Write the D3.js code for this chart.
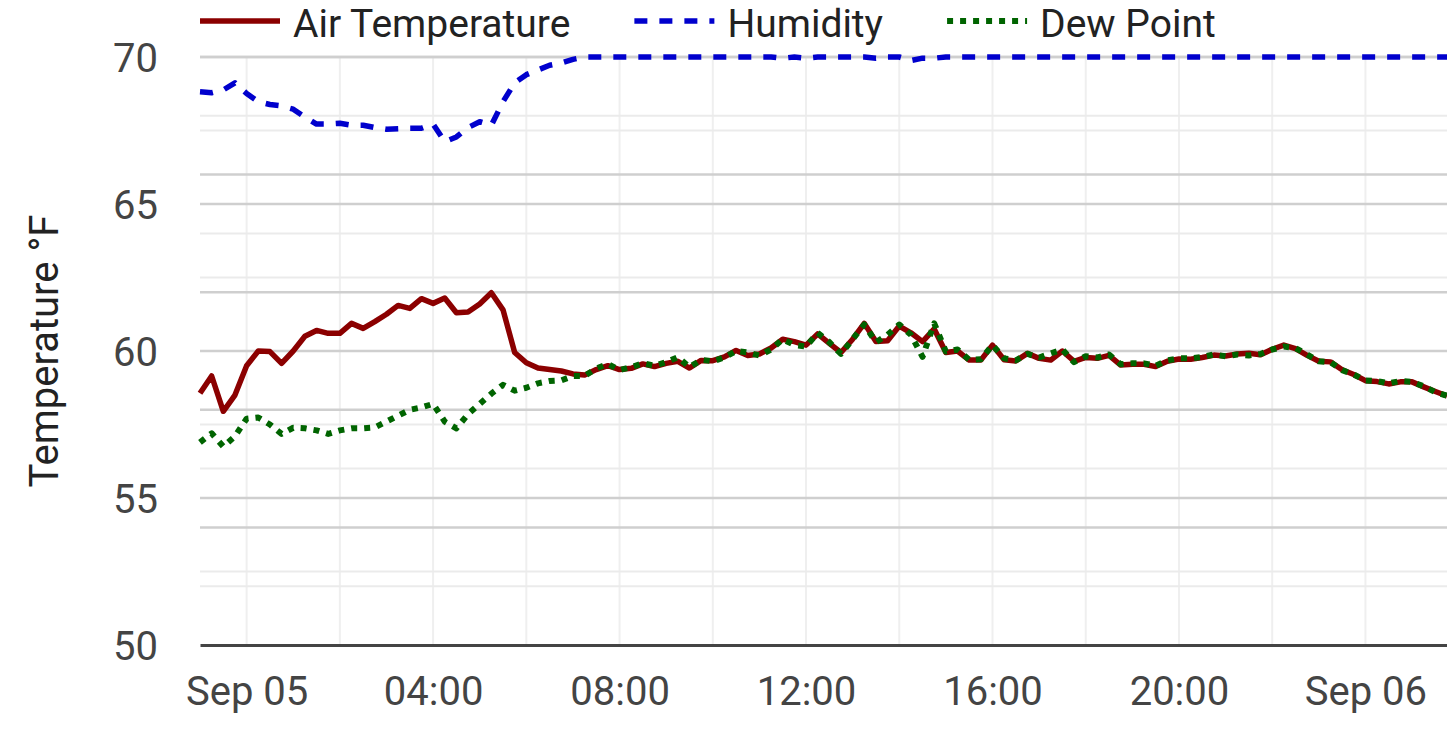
<!DOCTYPE html>
<html>
<head>
<meta charset="utf-8">
<script src="https://cdn.jsdelivr.net/npm/d3@7"></script>
<style>
  html, body { margin: 0; padding: 0; background: #fff; }
  svg { display: block; font-family: Roboto, "Noto Sans", sans-serif; }
</style>
</head>
<body>
<div id="CHART"></div>
<script>
////////////////////////////////////////////////////////////// DATA //////////////////////////////////////////////////////////////
// readings every 15 minutes, starting Sep 04 23:00
var startTime = new Date(2023, 8, 4, 23, 0);
var stepMinutes = 15;

var seriesNames = ["Air Temperature", "Humidity", "Dew Point"];

var airTemp = [
  58.56, 59.15, 57.95, 58.5, 59.5, 60.0, 59.98, 59.58, 60.0, 60.5,
  60.7, 60.6, 60.6, 60.94, 60.77, 61.0, 61.25, 61.55, 61.45, 61.78,
  61.62, 61.8, 61.3, 61.33, 61.6, 61.98, 61.4, 59.95, 59.6, 59.42,
  59.37, 59.32, 59.22, 59.18, 59.37, 59.5, 59.37, 59.41, 59.56, 59.47,
  59.58, 59.65, 59.42, 59.68, 59.67, 59.8, 60.02, 59.85, 59.9, 60.1,
  60.4, 60.32, 60.2, 60.58, 60.26, 59.95, 60.4, 60.94, 60.32, 60.35,
  60.85, 60.62, 60.32, 60.75, 59.95, 60.0, 59.69, 59.69, 60.2, 59.7,
  59.66, 59.92, 59.75, 59.69, 60.0, 59.65, 59.78, 59.75, 59.85, 59.52,
  59.55, 59.55, 59.47, 59.65, 59.73, 59.72, 59.78, 59.86, 59.83, 59.9,
  59.92, 59.87, 60.06, 60.2, 60.08, 59.85, 59.65, 59.63, 59.36, 59.2,
  58.99, 58.96, 58.88, 58.95, 58.95, 58.78, 58.62, 58.47
];

// relative humidity, % (right hand scale, labels hidden)
var humidity = [
  98.52, 98.48, 98.6, 98.9, 98.45, 98.1, 97.98, 97.92, 97.78, 97.45,
  97.15, 97.15, 97.18, 97.1, 97.1, 97.0, 96.93, 96.95, 96.97, 96.97,
  97.15, 96.4, 96.6, 97.0, 97.25, 97.1, 98.1, 98.9, 99.25, 99.45,
  99.65, 99.75, 99.9, 100, 100, 100, 100, 100, 100, 100,
  100, 100, 100, 100, 100, 100, 100, 100, 100, 100,
  99.95, 100, 99.95, 100, 100, 100, 100, 100, 99.95, 100,
  100, 99.85, 99.95, 99.95, 100, 100, 100, 100, 100, 100,
  100, 100, 100, 100, 100, 100, 100, 100, 100, 100,
  100, 100, 100, 100, 100, 100, 100, 100, 100, 100,
  100, 100, 100, 100, 100, 100, 100, 100, 100, 100,
  100, 100, 100, 100, 100, 100, 100, 100
];

var dewPoint = [
  56.89, 57.2, 56.75, 57.1, 57.7, 57.74, 57.5, 57.18, 57.39, 57.37,
  57.3, 57.18, 57.3, 57.37, 57.37, 57.4, 57.6, 57.8, 58.0, 58.08,
  58.2, 57.6, 57.37, 57.85, 58.2, 58.55, 58.85, 58.65, 58.75, 58.9,
  58.98, 59.0, 59.15, 59.15, 59.4, 59.56, 59.35, 59.45, 59.58, 59.5,
  59.62, 59.79, 59.45, 59.7, 59.65, 59.78, 60.0, 59.95, 59.85, 60.05,
  60.4, 60.2, 60.15, 60.62, 60.3, 59.9, 60.4, 60.9, 60.3, 60.55,
  60.9, 60.55, 59.8, 60.94, 59.98, 60.05, 59.7, 59.72, 60.2, 59.75,
  59.68, 59.9, 59.78, 59.92, 60.05, 59.62, 59.82, 59.78, 59.88, 59.55,
  59.58, 59.58, 59.5, 59.68, 59.75, 59.75, 59.8, 59.88, 59.82, 59.88,
  59.85, 59.9, 60.05, 60.15, 60.1, 59.88, 59.65, 59.62, 59.35, 59.2,
  59.0, 58.98, 58.9, 58.98, 58.95, 58.8, 58.6, 58.48
];

var tempTicks = [50, 55, 60, 65, 70];
var tempMinorTicks = [52.5, 57.5, 62.5, 67.5];
var humTicks = [75, 80, 85, 90, 95, 100];
var humMinorTicks = [77.5, 82.5, 87.5, 92.5, 97.5];

////////////////////////////////////////////////////////////// CANVAS //////////////////////////////////////////////////////////////
var w = 1447;
var h = 732;
var plot = { left: 200, right: 1447, top: 57, bottom: 645 };
var fontSize = "40px";

var svg = d3.select("#CHART")
  .append("svg")
  .attr("width", w)
  .attr("height", h);

var times = airTemp.map(function(d, i) {
  return new Date(startTime.getTime() + i * stepMinutes * 60000);
});

var x = d3.scaleTime()
  .domain([times[0], times[times.length - 1]])
  .range([plot.left, plot.right]);
var y = d3.scaleLinear().domain([50, 70]).range([plot.bottom, plot.top]);
var yHum = d3.scaleLinear().domain([75, 100]).range([plot.bottom, plot.top]);

////////////////////////////////////////////////////////////// GRID //////////////////////////////////////////////////////////////
var grid = svg.append("g");

// vertical grid every 2 hours
grid.selectAll("line.vgrid")
  .data(x.ticks(d3.timeHour.every(2)))
  .enter()
  .append("line")
  .attr("x1", function(d) { return x(d); })
  .attr("x2", function(d) { return x(d); })
  .attr("y1", plot.top)
  .attr("y2", plot.bottom)
  .attr("stroke", "#efefef")
  .attr("stroke-width", 2);

// minor horizontal lines, both scales
var minorY = tempMinorTicks.map(function(d) { return y(d); })
  .concat(humMinorTicks.map(function(d) { return yHum(d); }));
grid.selectAll("line.hminor")
  .data(minorY)
  .enter()
  .append("line")
  .attr("x1", plot.left)
  .attr("x2", plot.right)
  .attr("y1", function(d) { return d; })
  .attr("y2", function(d) { return d; })
  .attr("stroke", "#ebebeb")
  .attr("stroke-width", 2);

// major horizontal lines, both scales
var majorY = tempTicks.slice(1).map(function(d) { return y(d); })
  .concat(humTicks.slice(1).map(function(d) { return yHum(d); }));
grid.selectAll("line.hmajor")
  .data(majorY)
  .enter()
  .append("line")
  .attr("x1", plot.left)
  .attr("x2", plot.right)
  .attr("y1", function(d) { return d; })
  .attr("y2", function(d) { return d; })
  .attr("stroke", "#cfcfcf")
  .attr("stroke-width", 2.5);

////////////////////////////////////////////////////////////// AXES //////////////////////////////////////////////////////////////
var fmtDay = d3.timeFormat("%b %d");
var fmtHour = d3.timeFormat("%H:%M");

var xAxis = d3.axisBottom(x)
  .ticks(d3.timeHour.every(4))
  .tickSize(0)
  .tickPadding(0)
  .tickFormat(function(d) { return d.getHours() === 0 ? fmtDay(d) : fmtHour(d); });

var gx = svg.append("g")
  .attr("transform", "translate(0," + plot.bottom + ")")
  .call(xAxis);
gx.select(".domain")
  .attr("stroke", "#444")
  .attr("stroke-width", 3);
gx.selectAll("text")
  .attr("y", 60)
  .attr("dy", 0)
  .attr("font-size", fontSize)
  .attr("font-family", "Roboto")
  .attr("fill", "#444");

var yAxis = d3.axisLeft(y)
  .tickValues(tempTicks)
  .tickSize(0)
  .tickPadding(42);

var gy = svg.append("g")
  .attr("transform", "translate(" + plot.left + ",0)")
  .call(yAxis);
gy.select(".domain").remove();
gy.selectAll("text")
  .attr("dy", "0.36em")
  .attr("font-size", fontSize)
  .attr("font-family", "Roboto")
  .attr("fill", "#444");

svg.append("text")
  .attr("transform", "translate(58," + ((plot.top + plot.bottom) / 2) + ") rotate(-90)")
  .attr("text-anchor", "middle")
  .attr("font-size", fontSize)
  .attr("fill", "#222")
  .text("Temperature \u00b0F");

////////////////////////////////////////////////////////////// LINES //////////////////////////////////////////////////////////////
var styles = [
  { color: "#8b0000", width: 5.5, dash: null },
  { color: "#0000cd", width: 5.5, dash: "13,12" },
  { color: "#006400", width: 6, dash: "6,7" }
];

var tempLine = d3.line()
  .x(function(d, i) { return x(times[i]); })
  .y(function(d) { return y(d); });
var humLine = d3.line()
  .x(function(d, i) { return x(times[i]); })
  .y(function(d) { return yHum(d); });

var lines = svg.append("g").attr("fill", "none").attr("stroke-linejoin", "round");

lines.append("path")
  .attr("d", humLine(humidity))
  .attr("stroke", styles[1].color)
  .attr("stroke-width", styles[1].width)
  .attr("stroke-dasharray", styles[1].dash);

lines.append("path")
  .attr("d", tempLine(airTemp))
  .attr("stroke", styles[0].color)
  .attr("stroke-width", styles[0].width);

lines.append("path")
  .attr("d", tempLine(dewPoint))
  .attr("stroke", styles[2].color)
  .attr("stroke-width", styles[2].width)
  .attr("stroke-dasharray", styles[2].dash);

////////////////////////////////////////////////////////////// LEGEND //////////////////////////////////////////////////////////////
// sits a touch low so the glyph boxes stay inside the picture
var legend = svg.append("g").attr("transform", "translate(0,23)");
var cursor = plot.left;
seriesNames.forEach(function(name, i) {
  legend.append("line")
    .attr("x1", cursor)
    .attr("x2", cursor + 80)
    .attr("y1", -2)
    .attr("y2", -2)
    .attr("stroke", styles[i].color)
    .attr("stroke-width", styles[i].width)
    .attr("stroke-dasharray", styles[i].dash);
  var t = legend.append("text")
    .attr("x", cursor + 93)
    .attr("y", 0)
    .attr("dy", "0.35em")
    .attr("font-size", "39px")
    .attr("fill", "#222")
    .text(name);
  cursor = cursor + 93 + t.node().getComputedTextLength() + 64;
});
</script>
</body>
</html>
